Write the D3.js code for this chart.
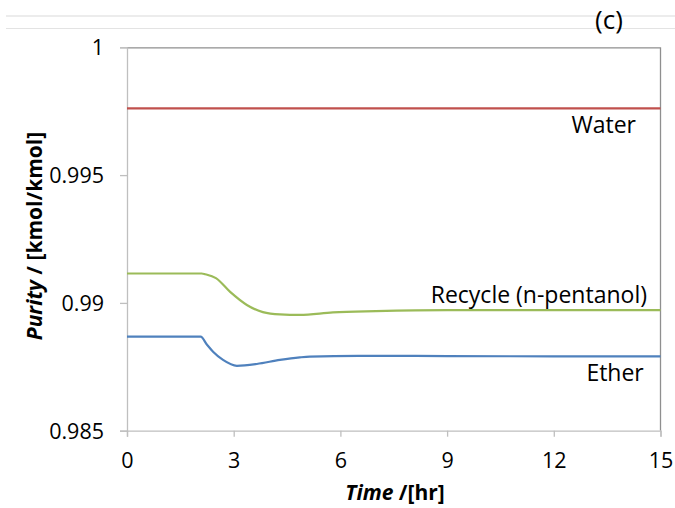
<!DOCTYPE html>
<html>
<head>
<meta charset="utf-8">
<script src="https://cdn.jsdelivr.net/npm/d3@7"></script>
<style>
  body { margin: 0; background: #fff; }
  svg { font-family: "Open Sans", sans-serif; }
</style>
</head>
<body>
<svg width="675" height="508"></svg>
<script>
// purity data (time in hr, purity in kmol/kmol)
var waterTime = [0, 15];
var waterValues = [0.99761, 0.99761];

var recycleTime = [0, 2.1, 2.2, 2.5, 2.9, 3.37, 3.82, 4.3, 4.86, 5.79, 7, 9, 12, 15];
var recycleValues = [0.99115, 0.99115, 0.99112, 0.99097, 0.99043, 0.98992, 0.98964, 0.98955, 0.98953, 0.98963, 0.98968, 0.98972, 0.98972, 0.98972];

var etherTime = [0, 2.07, 2.25, 2.42, 2.7, 3.09, 3.65, 4.3, 4.86, 5.14, 6.5, 9, 12, 15];
var etherValues = [0.98868, 0.98868, 0.98836, 0.98809, 0.98777, 0.98754, 0.98761, 0.98777, 0.98787, 0.98790, 0.98793, 0.98792, 0.98791, 0.98791];

var xTicks = [0, 3, 6, 9, 12, 15];
var yTicks = [0.985, 0.99, 0.995, 1];

var margin = {left: 127, top: 47.3, right: 675 - 660.5, bottom: 508 - 430.7};
var width = 675 - margin.left - margin.right;
var height = 508 - margin.top - margin.bottom;

var svg = d3.select("svg");

// bits of the page above the chart
svg.append("line").attr("x1", 6).attr("x2", 675).attr("y1", 16).attr("y2", 16)
    .attr("stroke", "#d9d9d9").attr("stroke-width", 1);
svg.append("line").attr("x1", 6).attr("x2", 675).attr("y1", 28.5).attr("y2", 28.5)
    .attr("stroke", "#e3e3e3").attr("stroke-width", 1);
svg.append("text").attr("x", 609).attr("y", 29).attr("text-anchor", "middle")
    .style("font-size", "26px").text("(c)");

var g = svg.append("g")
    .attr("transform", "translate(" + margin.left + "," + margin.top + ")");

var x = d3.scaleLinear().domain([0, 15]).range([0, width]);
var y = d3.scaleLinear().domain([0.985, 1]).range([height, 0]);

// frame (top and right)
g.append("path")
    .attr("d", "M0,0.5H" + width + "V" + height)
    .attr("fill", "none").attr("stroke", "#8f8f8f").attr("stroke-width", 1.3);

var xAxis = g.append("g").attr("transform", "translate(0," + height + ")")
    .call(d3.axisBottom(x).tickValues(xTicks).tickSize(6).tickPadding(16).tickFormat(d3.format("d")));
var yAxis = g.append("g")
    .call(d3.axisLeft(y).tickValues(yTicks).tickSize(7).tickPadding(16).tickFormat(function(d){ return d === 1 ? "1" : d3.format("")(+d.toFixed(3)); }));

[xAxis, yAxis].forEach(function(a){
    a.select(".domain").attr("stroke", "#bfbfbf").attr("stroke-width", 1.3);
    a.selectAll(".tick line").attr("stroke", "#bfbfbf").attr("stroke-width", 1.3);
    a.selectAll("text").style("font-size", "21.5px").style("font-family", "Open Sans").attr("fill", "#000");
});
yAxis.selectAll("text").attr("dy", "0.35em");

var line = d3.line()
    .x(function(d){ return x(d[0]); })
    .y(function(d){ return y(d[1]); })
    .curve(d3.curveMonotoneX);

var series = [
    {name: "Water", t: waterTime, v: waterValues, color: "#c0504d"},
    {name: "Recycle", t: recycleTime, v: recycleValues, color: "#9bbb59"},
    {name: "Ether", t: etherTime, v: etherValues, color: "#4f81bd"}
];

g.selectAll("path.series")
    .data(series)
    .enter()
    .append("path")
    .attr("class", "series")
    .attr("fill", "none")
    .attr("stroke", function(d){ return d.color; })
    .attr("stroke-width", 2.2)
    .attr("d", function(d){ return line(d3.zip(d.t, d.v)); });

// series labels
var labels = [
    {text: "Water", t: 14.31, v: 0.99665},
    {text: "Recycle (n-pentanol)", t: 14.62, v: 0.99001},
    {text: "Ether", t: 14.53, v: 0.98694}
];
g.selectAll("text.lbl")
    .data(labels)
    .enter()
    .append("text")
    .attr("class", "lbl")
    .attr("x", function(d){ return x(d.t); })
    .attr("y", function(d){ return y(d.v); })
    .attr("text-anchor", "end")
    .style("font-size", "23px")
    .text(function(d){ return d.text; });

// axis titles
var xt = svg.append("text")
    .attr("x", 395).attr("y", 500)
    .attr("text-anchor", "middle")
    .style("font-size", "21px").style("font-weight", "bold");
xt.append("tspan").style("font-style", "italic").text("Time");
xt.append("tspan").text(" /[hr]");

var yt = svg.append("text")
    .attr("transform", "translate(42,236) rotate(-90)")
    .attr("text-anchor", "middle")
    .style("font-size", "21px").style("font-weight", "bold");
yt.append("tspan").style("font-style", "italic").text("Purity");
yt.append("tspan").text(" / [kmol/kmol]");
</script>
</body>
</html>
